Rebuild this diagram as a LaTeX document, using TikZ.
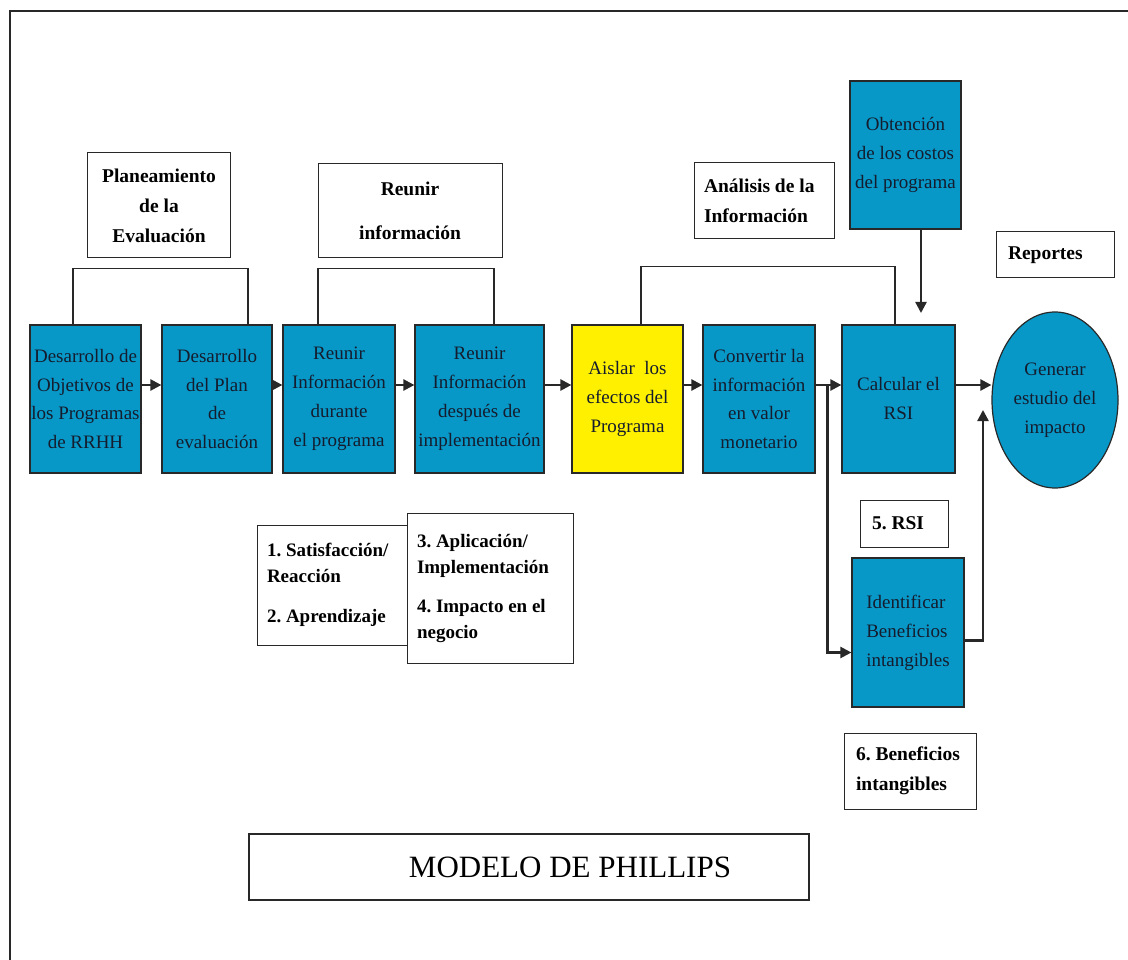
\documentclass[tikz,border=0pt]{standalone}
\usepackage{fontspec}
\setmainfont{Liberation Serif}
\usetikzlibrary{arrows.meta,shapes.geometric}
\frenchspacing

\definecolor{phblue}{RGB}{8,152,200}
\definecolor{phyellow}{RGB}{255,240,0}
\definecolor{phline}{RGB}{40,40,40}
\definecolor{phtext}{RGB}{20,28,45}

\tikzset{
  stage/.style={draw=phline, line width=1.2pt, fill=phblue, text=phtext,
    minimum width=111pt, minimum height=148pt, inner sep=1pt, align=center,
    font=\fontsize{19}{29}\selectfont},
  headbox/.style={draw=phline, line width=1pt, fill=white, inner sep=2pt,
    font=\fontsize{19.5}{30}\selectfont\bfseries},
  arr/.style={draw=phline, line width=2.3pt, -{Triangle[length=11pt,width=11pt]}},
  bracket/.style={draw=phline, line width=1.3pt}
}

\begin{document}
\begin{tikzpicture}[x=1pt,y=-1pt]
            \useasboundingbox (0,0) rectangle (1128,960);
            \draw[line width=1.8pt, phline] (10,960) -- (10,11) -- (1128,11);

            \node[stage] (obj) at (85.5,399) {Desarrollo de\\Objetivos de\\los Programas\\de RRHH};
            \node[stage, minimum width=110pt] (plan) at (217,399) {Desarrollo\\del Plan\\de\\evaluación};
            \node[stage, minimum width=112pt] (durante) at (339,399) {Reunir\\Información\\durante\\el programa};
            \node[stage, minimum width=129pt] (despues) at (479.5,399) {Reunir\\Información\\después de\\implementación};
            \node[stage, fill=phyellow] (aislar) at (627.5,399) {Aislar~ los\\efectos del\\Programa};
            \node[stage, minimum width=112pt] (convertir) at (759,399) {Convertir la\\información\\en valor\\monetario};
            \node[stage, minimum width=113pt] (calcular) at (898.5,399) {Calcular el\\RSI};
            \node[stage, ellipse, minimum width=126pt, minimum height=176pt, inner sep=0pt] (generar) at (1055,400) {Generar\\estudio del\\impacto};
            \node[stage] (costos) at (905.5,155) {Obtención\\de los costos\\del programa};
            \node[stage, minimum width=112pt, minimum height=149pt, align=flush left] (intang) at (908,632.5) {Identificar\\Beneficios\\intangibles};

            \node[headbox, minimum width=143pt, minimum height=105pt, align=center] (hplan) at (159,205.5) {Planeamiento\\de la\\Evaluación};
            \node[headbox, minimum width=184pt, minimum height=94pt, align=center] (hreunir) at (410,211) {Reunir\\[14pt]información};
            \node[headbox, minimum width=140pt, minimum height=76pt, text width=120pt, align=flush left] (hanalisis) at (764,201) {Análisis de la\\Información};
            \node[headbox, minimum width=118pt, minimum height=46pt, text width=94pt, align=flush left] (hreportes) at (1055,255) {Reportes};
            \node[headbox, minimum width=88pt, minimum height=47pt, text width=64pt, align=flush left] (hrsi) at (904,523.5) {5. RSI};
            \node[headbox, minimum width=132pt, minimum height=76pt, text width=108pt, align=flush left] (hbenef) at (910,771) {6. Beneficios\\intangibles};

            \node[headbox, font=\fontsize{19}{26}\selectfont\bfseries, minimum width=150pt, minimum height=120pt, text width=130pt, align=flush left] (niv12) at (332,585) {1. Satisfacción/\\Reacción\\[14pt]2. Aprendizaje};
            \node[headbox, font=\fontsize{19}{26}\selectfont\bfseries, minimum width=166pt, minimum height=150pt, text width=146pt, align=flush left] (niv34) at (490,588) {3. Aplicación/\\Implementación\\[13pt]4. Impacto en el\\negocio};

            \node[draw=phline, line width=1.3pt, minimum width=560pt, minimum height=66pt,
                label={[xshift=41pt, font=\fontsize{31}{36}\selectfont]center:MODELO DE PHILLIPS}] (modelo) at (529,867) {};

            \coordinate (split) at ([yshift=14,xshift=12]convertir.east);
            \coordinate (genin) at (983,410);
            \coordinate (costin) at (921,313);

            \draw[arr] ([yshift=14]obj.east) -- ([yshift=14]plan.west);
            \draw[arr] ([yshift=14]plan.east) -- ([yshift=14]durante.west);
            \draw[arr] ([yshift=14]durante.east) -- ([yshift=14]despues.west);
            \draw[arr] ([yshift=14]despues.east) -- ([yshift=14]aislar.west);
            \draw[arr] ([yshift=14]aislar.east) -- ([yshift=14]convertir.west);
            \draw[arr] ([yshift=14]convertir.east) -- ([yshift=14]calcular.west);
            \draw[arr] ([yshift=14]calcular.east) -- ([yshift=14]calcular.east -| generar.west);
            \draw[arr] (split) |- ([yshift=-20]intang.west);
            \draw[arr] ([yshift=-8]intang.east) -| (genin);
            \draw[arr] (costos.south -| costin) -- (costin);

            \draw[bracket] ([xshift=-12.5]obj.north) -- ++(0,-56) -| ([xshift=31]plan.north);
            \draw[bracket] ([xshift=-21]durante.north) -- ++(0,-56) -| ([xshift=14.5]despues.north);
            \draw[bracket] ([xshift=13.5]aislar.north) -- ++(0,-58) -| ([xshift=-3.5]calcular.north);
        \end{tikzpicture}
\end{document}
